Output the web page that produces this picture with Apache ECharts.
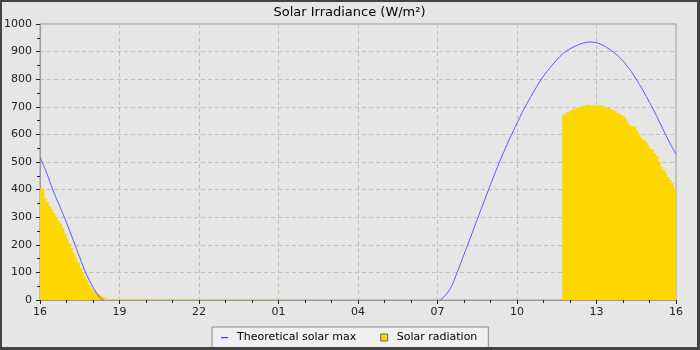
<!DOCTYPE html>
<html>
<head>
<meta charset="utf-8">
<script src="https://cdn.jsdelivr.net/npm/echarts@6/dist/echarts.min.js"></script>
<style>
html,body{margin:0;padding:0;background:#444;}
#frame{position:relative;width:700px;height:350px;background:#444;overflow:hidden;}
#chart{position:absolute;left:2px;top:2px;width:695px;height:345px;}
</style>
</head>
<body>
<div id="frame"><div id="chart"></div></div>
<script>
// ---- data ----
const xTickLabels = ['16','19','22','01','04','07','10','13','16'];

// Theoretical solar max, first evening (clock times on day 1)
const theoEveningTimes  = ['16:00','16:15','16:30','16:45','17:00','17:15','17:30','17:45','18:00','18:10','18:20','18:24'];
const theoEveningValues = [518, 461, 395, 339, 280, 218, 154, 93, 47, 20, 2, 0];

// Theoretical solar max, next day
const theoDayTimes  = ['07:05','07:15','07:30','07:45','08:00','08:15','08:30','08:45','09:00','09:15','09:30','09:45',
                       '10:00','10:15','10:30','10:45','11:00','11:15','11:30','11:45','12:00','12:15','12:30','12:45',
                       '13:00','13:15','13:30','13:45','14:00','14:15','14:30','14:45','15:00','15:15','15:30','15:45','16:00'];
const theoDayValues = [0, 12, 44, 102, 165, 228, 292, 355, 418, 479, 536, 590,
                       640, 690, 733, 774, 812, 842, 870, 894, 910, 922, 931, 935,
                       932, 923, 908, 890, 866, 836, 800, 760, 716, 670, 620, 572, 528];

// Solar radiation, first evening
const radEveningTimes  = ['16:00','16:05','16:10','16:15','16:20','16:25','16:30','16:35','16:40','16:45','16:50','16:55',
                          '17:00','17:05','17:10','17:15','17:20','17:25','17:30','17:35','17:40','17:45','17:50','17:55',
                          '18:00','18:05','18:10','18:15','18:20','18:25','18:30','18:35'];
const radEveningValues = [405, 398, 368, 355, 340, 328, 315, 300, 285, 276, 262, 240,
                          222, 205, 188, 170, 152, 135, 116, 100, 84, 70, 55, 42,
                          32, 25, 20, 14, 9, 5, 2, 0];

// Solar radiation, next day
const radDayTimes  = ['11:42','11:45','11:50','11:55','12:00','12:05','12:10','12:15','12:20','12:25','12:30','12:35',
                      '12:40','12:45','12:50','12:55','13:00','13:05','13:10','13:15','13:20','13:25','13:30','13:35',
                      '13:40','13:45','13:50','13:55','14:00','14:05','14:10','14:15','14:20','14:25','14:30','14:35',
                      '14:40','14:45','14:50','14:55','15:00','15:05','15:10','15:15','15:20','15:25','15:30','15:35',
                      '15:40','15:45','15:50','15:55','16:00'];
const radDayValues = [664, 672, 680, 684, 689, 693, 697, 699, 700, 703, 705, 708,
                      706, 704, 706, 703, 706, 705, 703, 700, 697, 694, 690, 687,
                      686, 678, 672, 668, 662, 654, 640, 632, 626, 632, 614, 600,
                      588, 579, 572, 562, 548, 541, 533, 521, 502, 484, 472, 459,
                      446, 435, 424, 402, 392];

// ---- helpers: hours since 16:00 on day 1 ----
function hm(s){ const p = s.split(':'); return +p[0] + (+p[1]) / 60; }
function day1(s){ return hm(s) - 16; }
function day2(s){ return hm(s) + 8; }
function pairs(times, values, f){ return times.map((t, i) => [f(t), values[i]]); }

const theoData = pairs(theoEveningTimes, theoEveningValues, day1)
  .concat([[12, null]])
  .concat(pairs(theoDayTimes, theoDayValues, day2));
const radData = pairs(radEveningTimes, radEveningValues, day1)
  .concat([[12, null]])
  .concat(pairs(radDayTimes, radDayValues, day2));

const FONT = 'DejaVu Sans';
const LINE_ICON = 'path://M0,0L0,0M0,3L7,3L7,4.2L0,4.2ZM7,7L7,7';
const chart = echarts.init(document.getElementById('chart'), null, {renderer: 'canvas'});
chart.setOption({
  animation: false,
  backgroundColor: '#e6e6e6',
  title: {
    text: 'Solar Irradiance (W/m²)',
    left: 'center', top: 4, padding: 0,
    textStyle: {fontFamily: FONT, fontSize: 13, fontWeight: 'normal', color: '#000'}
  },
  grid: {
    left: 38, top: 22, width: 636, height: 276,
    containLabel: false, outerBoundsMode: 'none',
    show: true, backgroundColor: 'transparent', borderColor: '#999', borderWidth: 1
  },
  legend: {
    left: 210, top: 325,
    padding: [5, 11, 5, 9],
    backgroundColor: '#f0f0f0', borderColor: '#888', borderWidth: 1, borderRadius: 0,
    itemWidth: 7, itemHeight: 7, itemGap: 24,
    textStyle: {fontFamily: FONT, fontSize: 11, color: '#000', padding: [0, 0, 0, 4]},
    data: [
      {name: 'Theoretical solar max', icon: LINE_ICON,
       itemStyle: {color: '#3c3cff', borderColor: '#3c3cff', borderWidth: 0, opacity: 1}},
      {name: 'Solar radiation', icon: 'rect', itemStyle: {color: '#ffd700', borderColor: '#666', borderWidth: 1}}
    ]
  },
  xAxis: {
    type: 'value', min: 0, max: 24, interval: 3,
    axisLine: {show: true, lineStyle: {color: '#999', width: 1}},
    axisTick: {show: true, length: 4, lineStyle: {color: '#222'}},
    minorTick: {show: true, splitNumber: 3, length: 3, lineStyle: {color: '#222'}},
    axisLabel: {
      fontFamily: FONT, fontSize: 11, color: '#222', margin: 7,
      formatter: v => xTickLabels[Math.round(v / 3)]
    },
    splitLine: {show: true, lineStyle: {color: '#c0c0c0', type: [4, 3], width: 1}}
  },
  yAxis: {
    type: 'value', min: 0, max: 1000, interval: 100,
    axisLine: {show: true, lineStyle: {color: '#999', width: 1}},
    axisTick: {show: true, length: 4, lineStyle: {color: '#222'}},
    minorTick: {show: true, splitNumber: 2, length: 3, lineStyle: {color: '#222'}},
    axisLabel: {fontFamily: FONT, fontSize: 11, color: '#222', margin: 8, formatter: v => String(v)},
    splitLine: {show: true, lineStyle: {color: '#c0c0c0', type: [4, 3], width: 1}}
  },
  series: [
    {
      name: 'Solar radiation', type: 'line', step: 'end',
      data: radData, symbol: 'none', connectNulls: false,
      lineStyle: {width: 0, color: '#ffd700'},
      itemStyle: {color: '#ffd700'},
      areaStyle: {color: '#ffd700', opacity: 1},
      z: 2
    },
    {
      name: 'Theoretical solar max', type: 'line', smooth: 0.3,
      data: theoData, symbol: 'none', connectNulls: false,
      lineStyle: {width: 1, color: '#5a5aff'},
      itemStyle: {color: '#5a5aff'},
      z: 3
    }
  ]
});
</script>
</body>
</html>
